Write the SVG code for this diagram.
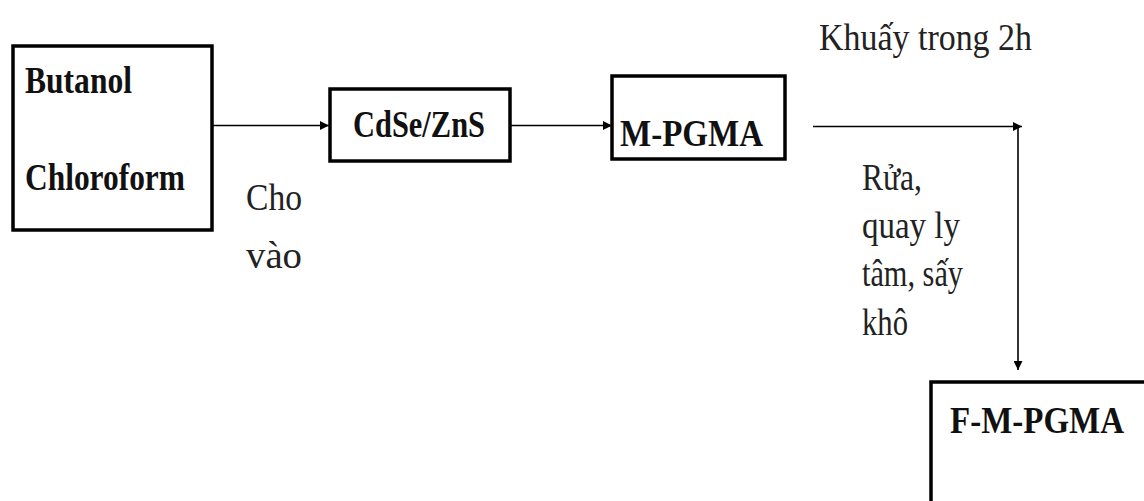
<svg xmlns="http://www.w3.org/2000/svg" width="1144" height="501" viewBox="0 0 1144 501">
  <style>
    .box { fill: #ffffff; stroke: #000000; stroke-width: 3.5; }
    .wire { fill: none; stroke: #000000; stroke-width: 1.6; }
    .bold { font-family: "Liberation Serif", "DejaVu Serif", serif; font-weight: bold; font-size: 38px; fill: #111111; }
    .plain { font-family: "Liberation Serif", "DejaVu Serif", serif; font-size: 38px; fill: #222222; }
  </style>
  <defs>
    <marker id="arrow" viewBox="0 0 10 10" refX="10" refY="5" markerWidth="10" markerHeight="9" markerUnits="userSpaceOnUse" orient="auto">
      <path d="M0,0 L10,5 L0,10 z" fill="#000000"/>
    </marker>
  </defs>

  <rect width="1144" height="501" fill="#ffffff"/>

  <!-- connectors -->
  <g id="connectors">
    <line class="wire" x1="212" y1="125.5" x2="329" y2="125.5" marker-end="url(#arrow)"/>
    <line class="wire" x1="510" y1="125.5" x2="612" y2="125.5" marker-end="url(#arrow)"/>
    <line class="wire" x1="813" y1="126.5" x2="1022" y2="126.5" marker-end="url(#arrow)"/>
    <line class="wire" x1="1018" y1="126.5" x2="1018" y2="370" marker-end="url(#arrow)"/>
  </g>

  <!-- nodes -->
  <g id="solvents">
    <rect class="box" x="13" y="46" width="199" height="184"/>
    <text class="bold" x="25" y="93" textLength="107" lengthAdjust="spacingAndGlyphs">Butanol</text>
    <text class="bold" x="25" y="190" textLength="160" lengthAdjust="spacingAndGlyphs">Chloroform</text>
  </g>

  <g id="cdse-zns">
    <rect class="box" x="330" y="89" width="180" height="72"/>
    <text class="bold" x="353" y="137" textLength="132" lengthAdjust="spacingAndGlyphs">CdSe/ZnS</text>
  </g>

  <g id="m-pgma">
    <rect class="box" x="612" y="76" width="173" height="83"/>
    <text class="bold" x="620" y="146" textLength="143" lengthAdjust="spacingAndGlyphs">M-PGMA</text>
  </g>

  <g id="f-m-pgma">
    <rect class="box" x="931" y="382" width="230" height="140"/>
    <text class="bold" x="950" y="433" font-size="35" textLength="174" lengthAdjust="spacingAndGlyphs">F-M-PGMA</text>
  </g>

  <!-- step labels -->
  <g id="labels">
    <text class="plain" x="246" y="210" textLength="56" lengthAdjust="spacingAndGlyphs">Cho</text>
    <text class="plain" x="246" y="268" textLength="56" lengthAdjust="spacingAndGlyphs">vào</text>
    <text class="plain" x="819" y="50" textLength="213" lengthAdjust="spacingAndGlyphs">Khuấy trong 2h</text>
    <text class="plain" x="862" y="190" textLength="60" lengthAdjust="spacingAndGlyphs">Rửa,</text>
    <text class="plain" x="862" y="238" textLength="98" lengthAdjust="spacingAndGlyphs">quay ly</text>
    <text class="plain" x="862" y="286" textLength="101" lengthAdjust="spacingAndGlyphs">tâm, sấy</text>
    <text class="plain" x="862" y="335" textLength="46" lengthAdjust="spacingAndGlyphs">khô</text>
  </g>
</svg>
